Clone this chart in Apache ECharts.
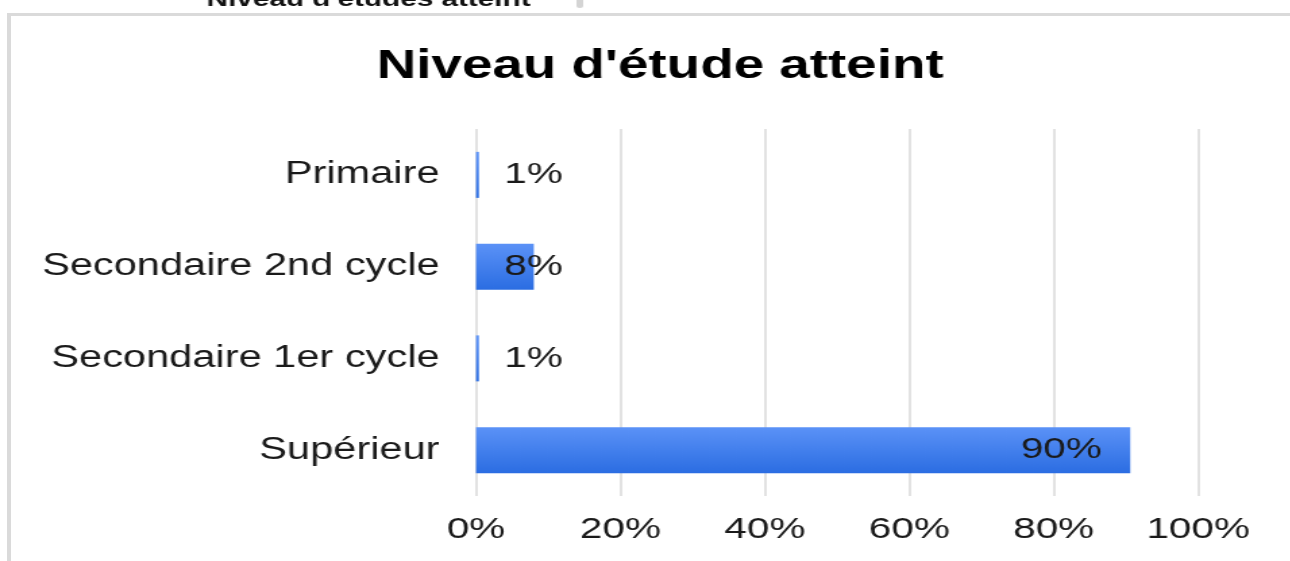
<!DOCTYPE html>
<html>
<head>
<meta charset="utf-8">
<title>Niveau d'étude atteint</title>
<script src="https://cdn.jsdelivr.net/npm/echarts@6/dist/echarts.min.js"></script>
<style>
body{margin:0;background:#fff;overflow:hidden;}
.cadre{position:absolute;left:7px;top:13px;width:1290px;height:560px;border-top:3px solid #dadada;border-left:4px solid #dadada;}
/* le graphique d'origine est etire horizontalement */
#main{position:absolute;left:0;top:0;width:956px;height:561px;transform:scaleX(1.35);transform-origin:0 0;}
</style>
</head>
<body>
<div class="cadre"></div>
<div id="main"></div>
<script>
// donnees
var categories=['Primaire','Secondaire 2nd cycle','Secondaire 1er cycle','Supérieur'];
var valeurs=[0.4,8,0.4,90.6];
var etiquettes=['1%','8%','1%','90%'];
var ticks=[0,20,40,60,80,100];

var police='"Liberation Sans", Arial, sans-serif';
var myChart=echarts.init(document.getElementById('main'));

var barres=[];
for(var i=0;i<valeurs.length;i++){
	var grand=valeurs[i]>50;
	barres.push({
		value:valeurs[i],
		label:{
			show:true,
			position:grand?'insideRight':'insideLeft',
			distance:21,
			formatter:etiquettes[i],
			fontSize:30,
			fontFamily:police,
			color:'#1a1a1a'
		}
	});
}

var option={
	animation:false,
	title:[{
		text:"Niveau d'étude atteint",
		left:484,
		top:41,
		textAlign:'center',
		textStyle:{fontSize:40.6,fontWeight:'bold',fontFamily:police,color:'#000'}
	},{
		text:"Niveau d'études atteint",
		left:268,
		top:-16,
		textAlign:'center',
		textStyle:{fontSize:22,fontWeight:'bold',fontFamily:police,color:'#111'}
	}],
	graphic:[{
		type:'rect',
		left:427,
		top:-6,
		shape:{width:5,height:14,r:3},
		style:{fill:'#d4d4d4'}
	}],
	grid:{left:352.6,right:68.5,top:129,bottom:65,containLabel:false},
	xAxis:{
		type:'value',
		min:ticks[0],
		max:ticks[ticks.length-1],
		interval:ticks[1]-ticks[0],
		axisLine:{show:false},
		axisTick:{show:false},
		splitLine:{show:true,lineStyle:{color:'#d9d9d9',width:1.5}},
		axisLabel:{formatter:'{value}%',fontSize:30,fontFamily:police,color:'#1a1a1a',margin:19}
	},
	yAxis:{
		type:'category',
		inverse:true,
		data:categories,
		axisLine:{show:false},
		axisTick:{show:false},
		axisLabel:{fontSize:30.8,fontFamily:police,color:'#1a1a1a',margin:27}
	},
	series:[{
		type:'bar',
		barWidth:46,
		data:barres,
		itemStyle:{
			color:new echarts.graphic.LinearGradient(0,0,0,1,[
				{offset:0,color:'#5b92f7'},
				{offset:1,color:'#2b6de2'}
			])
		}
	}]
};
myChart.setOption(option);
</script>
</body>
</html>
